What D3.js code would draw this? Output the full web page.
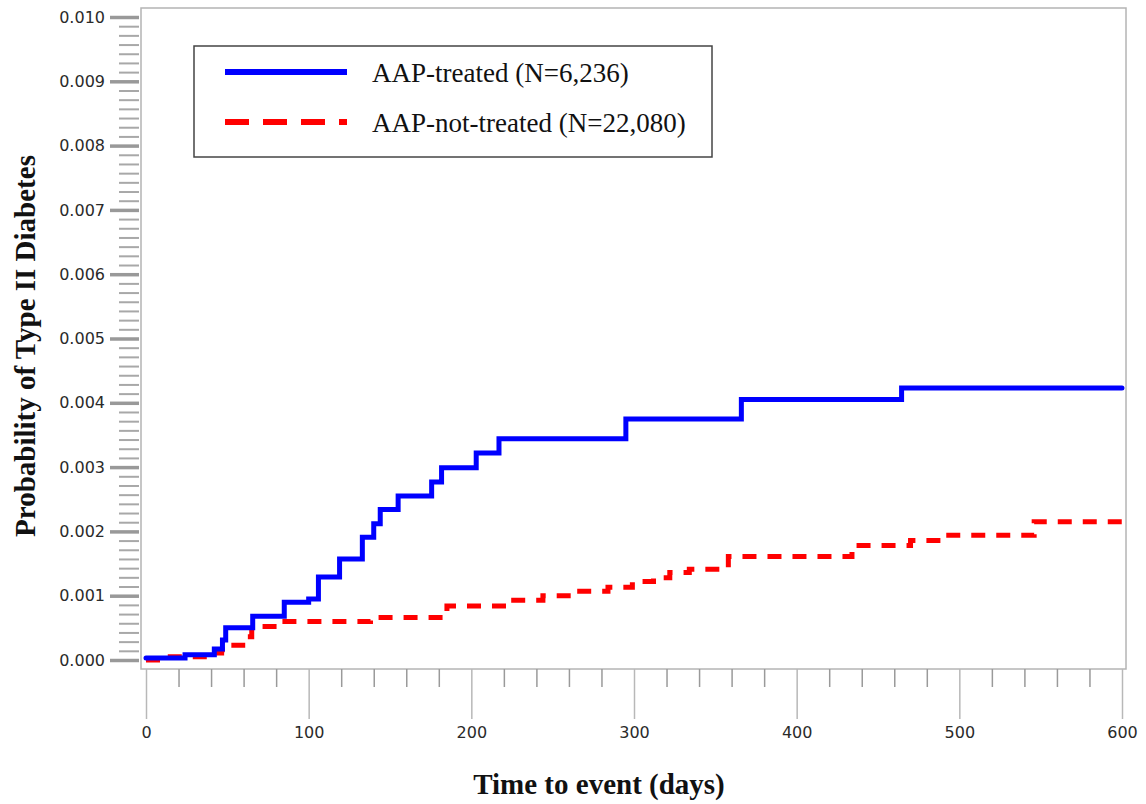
<!DOCTYPE html>
<html>
<head>
<meta charset="utf-8">
<script src="https://cdn.jsdelivr.net/npm/d3@7"></script>
<style>
  body { margin: 0; background: #fff; }
  .tick text { font-family: "DejaVu Sans", sans-serif; font-size: 16px; fill: #2a2a2a; }
  .title { font-family: "Liberation Serif", serif; font-weight: bold; font-size: 29px; fill: #111; }
  .legend text { font-family: "Liberation Serif", serif; font-size: 27px; fill: #111; }
</style>
</head>
<body>
<svg width="1146" height="804"></svg>
<script>
// series: time (days) and cumulative probability
var treatedDays = [0, 24, 42, 47, 49, 65.6, 85, 100, 106, 119, 133, 140, 144, 155, 175.6, 181.7, 203, 217, 295, 366, 464.5, 600];
var treatedProb = [0.00003, 0.00008, 0.00017, 0.00031, 0.0005, 0.00068, 0.0009, 0.00095, 0.00129, 0.00157, 0.00191, 0.00212, 0.00234, 0.00255, 0.00277, 0.00299, 0.00322, 0.00344, 0.00375, 0.00405, 0.00423, 0.00423];

var untreatedDays = [0, 12, 43, 46.5, 54, 61, 65, 82, 138, 185, 222, 244, 264, 284, 299, 312, 322, 334, 358, 434, 470, 489, 546, 600];
var untreatedProb = [0, 0.00005, 0.00011, 0.00016, 0.00023, 0.00036, 0.00052, 0.0006, 0.00066, 0.00084, 0.00093, 0.001, 0.00107, 0.00113, 0.00122, 0.00128, 0.00136, 0.00141, 0.00161, 0.00178, 0.00186, 0.00194, 0.00215, 0.00215];

var seriesNames = ["AAP-treated (N=6,236)", "AAP-not-treated (N=22,080)"];

var xTicks = [0, 100, 200, 300, 400, 500, 600];
var yTicks = [0, 0.001, 0.002, 0.003, 0.004, 0.005, 0.006, 0.007, 0.008, 0.009, 0.010];

var svg = d3.select("svg");

var x = d3.scaleLinear().domain([0, 600]).range([146, 1122]),
    y = d3.scaleLinear().domain([0, 0.010]).range([660, 17]);

// plot frame
svg.append("rect")
    .attr("x", 141).attr("y", 8)
    .attr("width", 985).attr("height", 661)
    .attr("fill", "none")
    .attr("stroke", "#b4b4b4")
    .attr("stroke-width", 1.5);

// y-axis: 7 minor intervals between labelled ticks
var yMinor = [];
for (var i = 0; i < 70; i++) {
  if (i % 7) yMinor.push(i * 0.001 / 7);
}

svg.append("g")
    .attr("transform", "translate(139,0)")
    .call(d3.axisLeft(y).tickValues(yMinor).tickSize(20).tickFormat(""))
    .call(function(g) {
      g.select(".domain").remove();
      g.selectAll("line").attr("stroke", "#a8a8a8").attr("stroke-width", 2);
    });

svg.append("g")
    .attr("transform", "translate(139,0)")
    .call(d3.axisLeft(y).tickValues(yTicks).tickSize(29).tickPadding(5).tickFormat(d3.format(".3f")))
    .call(function(g) {
      g.select(".domain").remove();
      g.selectAll("line").attr("stroke", "#999").attr("stroke-width", 3.5);
    });

// x-axis: minor every 20 days
var xMinor = d3.range(20, 600, 20).filter(function(d) { return d % 100; });

svg.append("g")
    .attr("transform", "translate(0,669)")
    .call(d3.axisBottom(x).tickValues(xMinor).tickSize(18).tickFormat(""))
    .call(function(g) {
      g.select(".domain").remove();
      g.selectAll("line").attr("stroke", "#9a9a9a").attr("stroke-width", 1.5);
    });

svg.append("g")
    .attr("transform", "translate(0,669)")
    .call(d3.axisBottom(x).tickValues(xTicks).tickSize(50).tickPadding(8))
    .call(function(g) {
      g.select(".domain").remove();
      g.selectAll("line").attr("stroke", "#b8b8b8").attr("stroke-width", 1.5);
    });

// axis titles
svg.append("text")
    .attr("class", "title")
    .attr("x", 599).attr("y", 794)
    .attr("text-anchor", "middle")
    .text("Time to event (days)");

svg.append("text")
    .attr("class", "title")
    .attr("transform", "translate(35,346) rotate(-90)")
    .attr("text-anchor", "middle")
    .text("Probability of Type II Diabetes");

// curves
var line = d3.line()
    .x(function(d) { return x(d[0]); })
    .y(function(d) { return y(d[1]); })
    .curve(d3.curveStepAfter);

svg.append("path")
    .datum(d3.zip(untreatedDays, untreatedProb))
    .attr("fill", "none")
    .attr("stroke", "#ff0000")
    .attr("stroke-width", 5)
    .attr("stroke-dasharray", "14,11")
    .attr("d", line);

svg.append("path")
    .datum(d3.zip(treatedDays, treatedProb))
    .attr("fill", "none")
    .attr("stroke", "#0000ff")
    .attr("stroke-width", 5)
    .attr("stroke-linecap", "round")
    .attr("d", line);

// legend
var legend = svg.append("g").attr("class", "legend");

legend.append("rect")
    .attr("x", 194).attr("y", 46)
    .attr("width", 518).attr("height", 111)
    .attr("fill", "#fff")
    .attr("stroke", "#444")
    .attr("stroke-width", 1.5);

var legendItems = legend.selectAll(".item")
    .data(seriesNames)
  .enter().append("g")
    .attr("class", "item")
    .attr("transform", function(d, i) { return "translate(0," + (72 + i * 50) + ")"; });

legendItems.append("line")
    .attr("x1", 225).attr("x2", 347)
    .attr("stroke", function(d, i) { return i ? "#ff0000" : "#0000ff"; })
    .attr("stroke-width", 6)
    .attr("stroke-dasharray", function(d, i) { return i ? "24,14" : null; });

legendItems.append("text")
    .attr("x", 372)
    .attr("y", 10)
    .text(function(d) { return d; });
</script>
</body>
</html>
